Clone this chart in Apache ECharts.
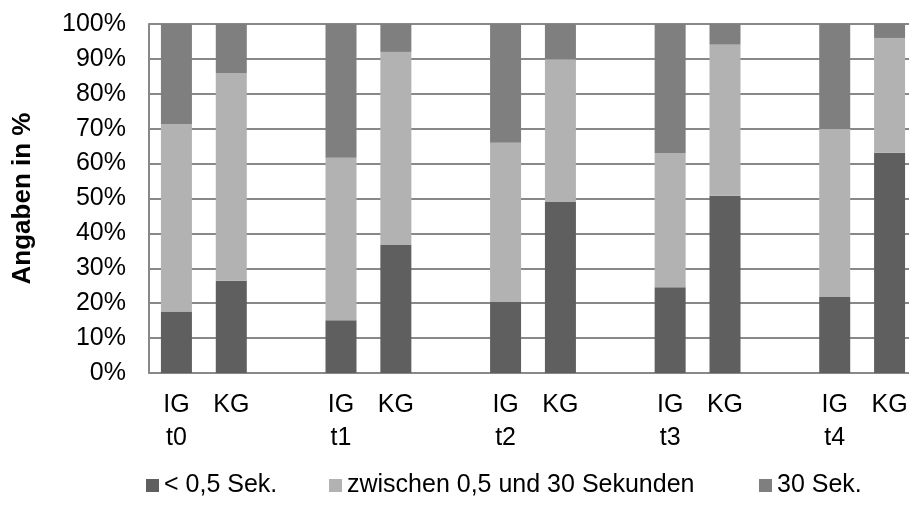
<!DOCTYPE html>
<html>
<head>
<meta charset="utf-8">
<script src="https://cdn.jsdelivr.net/npm/echarts@6/dist/echarts.min.js"></script>
<style>
html,body{margin:0;padding:0;background:#fff;}
#chart{width:909px;height:507px;}
</style>
</head>
<body>
<div id="chart"></div>
<script>
// ---- data ----
const timepoints = ['t0', 't1', 't2', 't3', 't4'];
const groupsPerTime = ['IG', 'KG'];
const seriesNames = ['< 0,5 Sek.', 'zwischen 0,5 und 30 Sekunden', '30 Sek.'];
// values in %, order: IG t0, KG t0, IG t1, KG t1, ... IG t4, KG t4
const fastVals   = [17.6, 26.4, 15.1, 36.7, 20.5, 49.0, 24.6, 50.8, 21.8, 63.1];
const middleVals = [53.7, 59.5, 46.6, 55.3, 45.5, 40.9, 38.4, 43.3, 48.1, 32.9];
const slowVals   = [28.7, 14.1, 38.3,  8.0, 34.0, 10.1, 37.0,  5.9, 30.1,  4.0];
const yTicks = [0, 10, 20, 30, 40, 50, 60, 70, 80, 90, 100];

// ---- build category slots (with an empty spacer slot between time points) ----
const cats = [];
const labelMap = {};
const slotIndex = [];
timepoints.forEach((t, ti) => {
  groupsPerTime.forEach((g, gi) => {
    const key = g + '|' + t;
    cats.push(key);
    labelMap[key] = gi === 0 ? g + '\n' + t : g;
    slotIndex.push(cats.length - 1);
  });
  if (ti < timepoints.length - 1) {
    const key = 'gap' + ti;
    cats.push(key);
    labelMap[key] = '';
  }
});
function spread(vals) {
  const arr = cats.map(() => '-');
  vals.forEach((v, i) => { arr[slotIndex[i]] = v; });
  return arr;
}

const colors = ['#5f5f5f', '#b2b2b2', '#7f7f7f'];
const FONT = 'Liberation Sans, Arial, sans-serif';

const chart = echarts.init(document.getElementById('chart'), null, {renderer: 'canvas'});
const legendPos = [146, 329, 759];
chart.setOption({
  animation: false,
  color: colors,
  grid: {left: 149, width: 768, top: 24, height: 349, containLabel: false, outerBoundsMode: 'none'},
  legend: seriesNames.map((n, i) => ({
    data: [n],
    left: legendPos[i],
    top: 473,
    padding: 0,
    icon: 'rect',
    itemWidth: 13,
    itemHeight: 13,
    textStyle: {fontFamily: FONT, fontSize: 25, color: '#000'},
    selectedMode: false
  })),
  xAxis: {
    type: 'category',
    data: cats,
    axisLine: {lineStyle: {color: '#888', width: 2}},
    axisTick: {show: false},
    axisLabel: {
      interval: 0,
      margin: 16,
      fontFamily: FONT,
      fontSize: 25,
      lineHeight: 33,
      color: '#000',
      formatter: v => labelMap[v]
    }
  },
  yAxis: {
    type: 'value',
    min: yTicks[0],
    max: yTicks[yTicks.length - 1],
    interval: yTicks[1] - yTicks[0],
    name: 'Angaben in %',
    nameLocation: 'middle',
    nameGap: 113,
    nameTextStyle: {fontFamily: FONT, fontSize: 26, fontWeight: 'bold', color: '#000'},
    axisLine: {show: true, lineStyle: {color: '#888', width: 2}},
    axisTick: {show: false},
    axisLabel: {
      margin: 23,
      fontFamily: FONT,
      fontSize: 25,
      color: '#000',
      formatter: '{value}%'
    },
    splitLine: {lineStyle: {color: '#888', width: 2}}
  },
  series: [fastVals, middleVals, slowVals].map((vals, i) => ({
    name: seriesNames[i],
    type: 'bar',
    stack: 'total',
    barWidth: 31,
    data: spread(vals),
    itemStyle: {color: colors[i]}
  }))
});
</script>
</body>
</html>
